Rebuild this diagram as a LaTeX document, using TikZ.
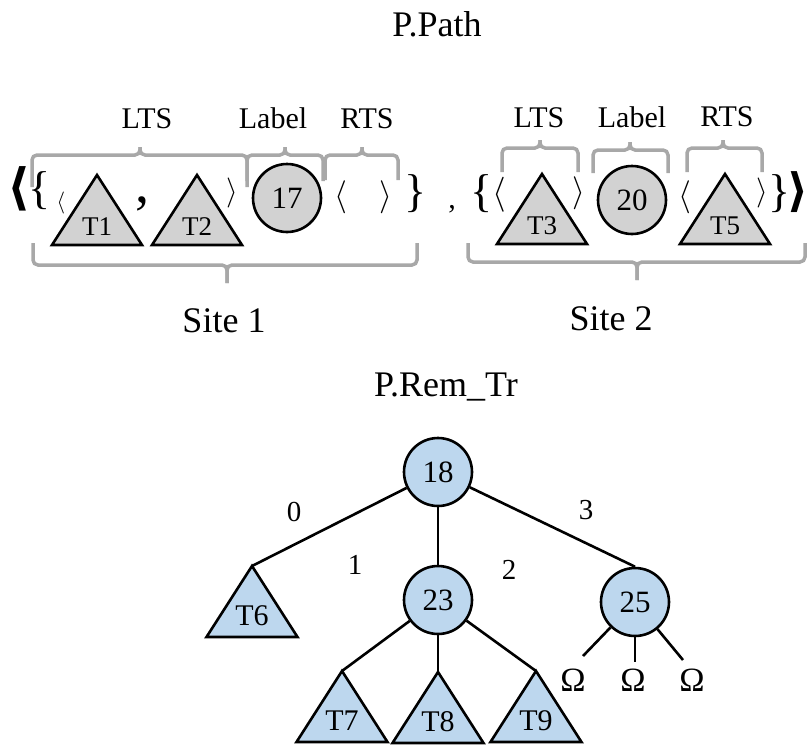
\documentclass[tikz,border=0pt]{standalone}
\usepackage{fix-cm}
\usepackage{fontspec}
\setmainfont{Liberation Serif}
\newfontfamily\anglefont{DejaVu Sans}
\definecolor{treeblue}{RGB}{189,215,238}
\definecolor{pathgray}{RGB}{210,210,210}
\definecolor{bracegray}{RGB}{168,168,168}
\tikzset{
  title/.style={font=\fontsize{36}{40}\selectfont, anchor=base},
  partlabel/.style={font=\fontsize{30}{32}\selectfont, anchor=base},
  glyph/.style={inner sep=0pt},
  keynode/.style={circle, draw, line width=2.6pt, minimum size=68pt,
    inner sep=0pt, font=\fontsize{31}{31}\selectfont},
  tri/.style={draw, line width=2.6pt},
  bracket/.style={draw=bracegray, line width=3.5pt, rounded corners=5pt},
  edgelabel/.style={font=\fontsize{29}{29}\selectfont},
}
\begin{document}
\begin{tikzpicture}[x=1pt, y=-1pt]
  \useasboundingbox (0,0) rectangle (807,745);

  % P.Path
  \node[title] (path) at (437,36) {P.Path};

  % brackets over LTS / Label / RTS and under the sites
  \foreach \xa/\xm/\xb/\yh/\ye/\yt in {32/140/247/155/187/147, 247/285/323/155/181/147,
      325/362/398/155/180/147, 502/540/578/148/172/140, 593/630/668/150/173/142,
      687/723/762/148/172/140, 33/227/417/265/243/283, 468/637/805/262/243/280} {
    \draw[bracket] (\xa,\ye) -- (\xa,\yh) -- (\xm,\yh) -- (\xm,\yt);
    \draw[bracket] (\xm,\yt) -- (\xm,\yh) -- (\xb,\yh) -- (\xb,\ye);
  }
  \node[partlabel] (lts1) at (147,128) {LTS};
  \node[partlabel] (lab1) at (273,128) {Label};
  \node[partlabel] (rts1) at (367,128) {RTS};
  \node[partlabel] (lts2) at (539,127) {LTS};
  \node[partlabel] (lab2) at (632,127) {Label};
  \node[partlabel] (rts2) at (727,126) {RTS};
  \node[title] (site1) at (224,332) {Site 1};
  \node[title] (site2) at (611,330) {Site 2};

  % site 1
  \node[glyph, font=\fontsize{50}{50}\selectfont\anglefont\bfseries] (lang) at (19,189) {⟨};
  \node[glyph, font=\fontsize{46}{46}\selectfont] (lbr1) at (40,191) {\{};
  \node[glyph, font=\fontsize{22}{22}\selectfont] (la1) at (61,203) {$\langle$};
  \node[glyph, font=\fontsize{56}{56}\selectfont] (com1) at (142,204) {,};
  \node[glyph, font=\fontsize{30}{30}\selectfont] (ra1) at (232,193) {$\rangle$};
  \node[keynode, fill=pathgray] (k17) at (287,198) {17};
  \node[glyph, font=\fontsize{33}{33}\selectfont] (la2) at (341,197) {$\langle$};
  \node[glyph, font=\fontsize{33}{33}\selectfont] (ra2) at (386,197) {$\rangle$};
  \node[glyph, font=\fontsize{46}{46}\selectfont] (rbr1) at (416,194) {\}};

  \node[glyph, font=\fontsize{30}{30}\selectfont] (com0) at (452,209) {,};

  % site 2
  \node[glyph, font=\fontsize{46}{46}\selectfont] (lbr2) at (482,194) {\{};
  \node[glyph, font=\fontsize{35}{35}\selectfont] (la3) at (499,195) {$\langle$};
  \node[glyph, font=\fontsize{33}{33}\selectfont] (ra3) at (579,193) {$\rangle$};
  \node[keynode, fill=pathgray] (k20) at (632,200) {20};
  \node[glyph, font=\fontsize{33}{33}\selectfont] (la4) at (685,197) {$\langle$};
  \node[glyph, font=\fontsize{30}{30}\selectfont] (ra4) at (762,193) {$\rangle$};
  \node[glyph, font=\fontsize{46}{46}\selectfont] (rbr2) at (780,194) {\}};
  \node[glyph, font=\fontsize{46}{46}\selectfont\anglefont\bfseries] (rang) at (798,192) {⟩};

  \foreach \nm/\x/\y in {T1/97/175, T2/197/175, T3/542/174, T5/725/174} {
    \coordinate (\nm) at (\x,\y);
    \draw[tri, fill=pathgray] (\nm) -- ++(-45,70) -- ++(90,0) -- cycle;
    \node[font=\fontsize{27}{27}\selectfont] at ([yshift=-52pt]\nm) {\nm};
  }

  % P.Rem_Tr
  \node[title] (rem) at (446,396) {P.Rem\_Tr};
  \node[keynode, fill=treeblue] (n18) at (438,472) {18};
  \node[keynode, fill=treeblue] (n23) at (438,600) {23};
  \node[keynode, fill=treeblue] (n25) at (635,602) {25};

  \foreach \nm/\x/\y in {T6/252/566, T7/342/671, T8/438/672, T9/536/671} {
    \coordinate (\nm) at (\x,\y);
    \draw[tri, fill=treeblue] (\nm) -- ++(-45.5,71) -- ++(91,0) -- cycle;
    \node[font=\fontsize{30}{30}\selectfont] at ([yshift=-50pt]\nm) {\nm};
  }

  \draw[line width=2.6pt] (n18) -- (T6);
  \draw[line width=2.6pt] (n18) -- (n23);
  \draw[line width=2.6pt] (n18) -- (n25.north);
  \draw[line width=2.6pt] (n23) -- (T7);
  \draw[line width=2.6pt] (n23) -- (T8);
  \draw[line width=2.6pt] (n23) -- (T9);

  \coordinate (o1) at (583,656);
  \coordinate (o2) at (635,662);
  \coordinate (o3) at (683,660);
  \foreach \c in {o1,o2,o3}
    \draw[line width=2.6pt] (n25) -- (\c);
  \node[font=\fontsize{34}{34}\selectfont] (om1) at (573,680) {Ω};
  \node[font=\fontsize{34}{34}\selectfont] (om2) at (633,680) {Ω};
  \node[font=\fontsize{34}{34}\selectfont] (om3) at (692,680) {Ω};

  \node[edgelabel] (e0) at (294,512) {0};
  \node[edgelabel] (e1) at (355,565) {1};
  \node[edgelabel] (e2) at (509,570) {2};
  \node[edgelabel] (e3) at (586,510) {3};
\end{tikzpicture}
\end{document}
